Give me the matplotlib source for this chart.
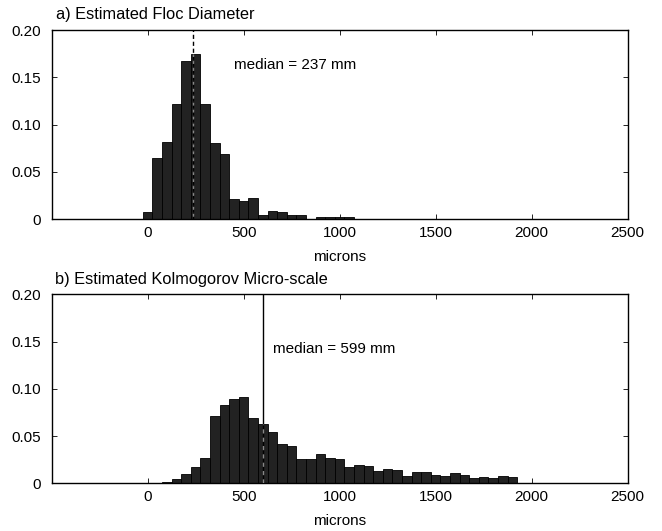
import numpy as np
import matplotlib
matplotlib.use("Agg")
import matplotlib.pyplot as plt

plt.rcParams['font.family'] = ['Liberation Sans', 'DejaVu Sans']
plt.rcParams['font.size'] = 11

# bin centres in microns (bins are 50 wide)
floc_centres = [0, 50, 100, 150, 200, 250, 300, 350, 400, 450, 500, 550,
                600, 650, 700, 750, 800, 850, 900, 950, 1000, 1050, 1100]
floc_freq = [0.0077, 0.0644, 0.082, 0.1215, 0.167, 0.1746, 0.1215, 0.0803,
             0.0687, 0.0218, 0.019, 0.0222, 0.0046, 0.0088, 0.0077, 0.0046,
             0.0046, 0.0008, 0.0025, 0.0025, 0.0025, 0.0025, 0.0007]
floc_median = 237

kol_centres = [0, 50, 100, 150, 200, 250, 300, 350, 400, 450, 500, 550, 600,
               650, 700, 750, 800, 850, 900, 950, 1000, 1050, 1100, 1150,
               1200, 1250, 1300, 1350, 1400, 1450, 1500, 1550, 1600, 1650,
               1700, 1750, 1800, 1850, 1900, 1950, 2000]
kol_freq = [0, 0, 0.001, 0.0045, 0.0096, 0.017, 0.0272, 0.0712, 0.083, 0.0887,
            0.0912, 0.0686, 0.0628, 0.054, 0.0412, 0.0397, 0.0252, 0.0252,
            0.031, 0.0264, 0.0254, 0.0172, 0.0195, 0.0185, 0.013, 0.0149,
            0.014, 0.0075, 0.0119, 0.0119, 0.0088, 0.0075, 0.0108, 0.0089,
            0.0052, 0.0062, 0.0052, 0.0077, 0.0064, 0.0005, 0.0005]
kol_median = 599

xticks = [0, 500, 1000, 1500, 2000, 2500]
yticks = [0, 0.05, 0.10, 0.15, 0.20]
ytick_labels = ['0', '0.05', '0.10', '0.15', '0.20']

fig = plt.figure(figsize=(6.62, 5.31), dpi=100)
ax1 = fig.add_axes([0.078, 0.587, 0.870, 0.3565])
ax2 = fig.add_axes([0.078, 0.0898, 0.870, 0.356])


def style(ax):
    ax.set_xlim(-500, 2500)
    ax.set_ylim(0, 0.2)
    ax.set_xticks(xticks)
    ax.set_yticks(yticks)
    ax.set_yticklabels(ytick_labels)
    ax.tick_params(direction='in', top=True, right=True, length=3.5,
                   width=0.6, labelsize=11, pad=8)
    ax.tick_params(axis='x', pad=5)
    for s in ax.spines.values():
        s.set_linewidth(1.0)
    ax.set_xlabel('microns', fontsize=11, labelpad=7)


# a) floc diameter
ax1.bar(floc_centres, floc_freq, width=50, color='#222222',
        edgecolor='black', linewidth=0.6, zorder=2)
ax1.axvline(floc_median, color='black', lw=1, ls=(0, (3, 2)), zorder=3)
ax1.axvline(floc_median, ymax=max(floc_freq) / 0.2, color='#888888', lw=1,
            ls=(3, (2, 3)), zorder=4)
ax1.text(449, 0.163, 'median = %d mm' % floc_median, fontsize=11, va='center')
style(ax1)
fig.text(0.085, 0.972, 'a) Estimated Floc Diameter', fontsize=11.8,
         va='center')

# b) Kolmogorov micro-scale
ax2.bar(kol_centres, kol_freq, width=50, color='#222222',
        edgecolor='black', linewidth=0.6, zorder=2)
ax2.axvline(kol_median, color='black', lw=1, zorder=3)
ax2.axvline(kol_median, ymax=kol_freq[12] / 0.2, color='#888888', lw=1,
            ls=(0, (3, 3)), zorder=4)
ax2.text(652, 0.142, 'median = %d mm' % kol_median, fontsize=11, va='center')
style(ax2)
fig.text(0.083, 0.473, 'b) Estimated Kolmogorov Micro-scale', fontsize=11.8,
         va='center')

fig.savefig('out.png', dpi=100)
